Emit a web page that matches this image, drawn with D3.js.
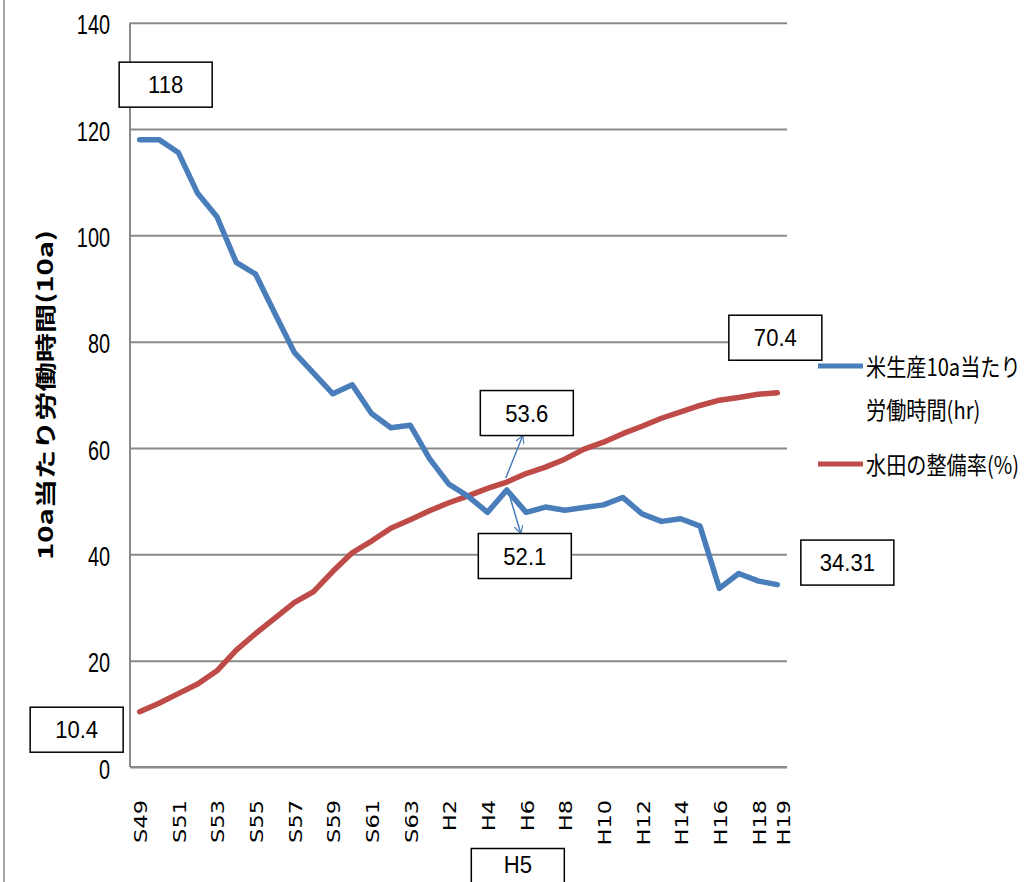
<!DOCTYPE html>
<html><head><meta charset="utf-8">
<script src="https://cdn.jsdelivr.net/npm/d3@7"></script>
<style>body{margin:0;background:#fff;} svg{display:block;}</style>
</head><body>
<svg id="chart" width="1034" height="882"></svg>
<script>
// ---- data ----
const categories = ["S49","S50","S51","S52","S53","S54","S55","S56","S57","S58","S59","S60","S61","S62","S63",
  "H1","H2","H3","H4","H5","H6","H7","H8","H9","H10","H11","H12","H13","H14","H15","H16","H17","H18","H19"];
const laborHours = [118, 118, 115.6, 107.9, 103.5, 94.9, 92.7, 85.3, 78, 74.1, 70.2, 71.9, 66.5, 63.8, 64.3,
  58, 53.2, 50.9, 47.9, 52.1, 47.9, 48.9, 48.3, 48.8, 49.3, 50.7, 47.6, 46.2, 46.7, 45.3, 33.6, 36.4, 35, 34.31];
const paddyRate = [10.4, 12, 13.8, 15.6, 18.1, 22, 25.1, 28, 30.9, 33, 36.8, 40.3, 42.5, 44.9, 46.5,
  48.2, 49.7, 51, 52.4, 53.6, 55.2, 56.4, 57.9, 59.8, 61.1, 62.7, 64.1, 65.6, 66.8, 68, 69, 69.5, 70.1, 70.4];
const xTickLabels = ["S49","S51","S53","S55","S57","S59","S61","S63","H2","H4","H6","H8","H10","H12","H14","H16","H18","H19"];
const yTicks = [0, 20, 40, 60, 80, 100, 120, 140];
const seriesNames = ["米生産10a当たり|労働時間(hr)", "水田の整備率(%)"];
const yTitle = "10a当たり労働時間(10a)";

// ---- layout ----
const svg = d3.select("#chart");
const L = 130, R = 787, T = 22.7, B = 767;
const x = d3.scaleBand().domain(categories).range([L, R]);
const cx = c => x(c) + x.bandwidth() / 2;
const y = d3.scaleLinear().domain([0, 140]).range([B, T]);
const blue = "#4a7ebb", red = "#be4b48", grid = "#8a8a8a";

// left border line
svg.append("line").attr("x1", 4).attr("x2", 4).attr("y1", 0).attr("y2", 882)
  .attr("stroke", "#a8a8a8").attr("stroke-width", 2);

// y axis with gridlines
const yAxis = d3.axisLeft(y).tickValues(yTicks).tickSize(-(R - L)).tickFormat(d3.format("d"));
const gy = svg.append("g").attr("transform", `translate(${L},0)`).call(yAxis);
gy.select(".domain").remove();
gy.selectAll(".tick line").attr("stroke", grid).attr("stroke-width", 2);
gy.selectAll(".tick text")
  .attr("x", null)
  .attr("transform", "translate(-20,1) scale(0.71,1)")
  .attr("dy", "0.36em")
  .attr("text-anchor", "end")
  .style("font-family", "'Liberation Sans', Arial, sans-serif")
  .style("font-size", "28px").attr("fill", "#000");
// axis lines
svg.append("line").attr("x1", L).attr("x2", L).attr("y1", T).attr("y2", B)
  .attr("stroke", grid).attr("stroke-width", 2);
svg.append("line").attr("x1", L).attr("x2", R).attr("y1", B).attr("y2", B)
  .attr("stroke", grid).attr("stroke-width", 2);

// x axis labels
const xAxis = d3.axisBottom(x).tickValues(xTickLabels).tickSize(0);
const gx = svg.append("g").attr("transform", `translate(0,800)`).call(xAxis);
gx.select(".domain").remove();
gx.selectAll(".tick text")
  .attr("y", null).attr("dy", "0.36em")
  .attr("text-anchor", "end")
  .attr("transform", d => `translate(${d === "H19" ? 6 : 1},0) rotate(-90) scale(1.25,1)`)
  .style("font-family", "'DejaVu Sans', sans-serif")
  .style("font-size", "18px").attr("fill", "#000");

// y title
svg.append("text")
  .attr("transform", "translate(53,395) rotate(-90)")
  .attr("text-anchor", "middle")
  .attr("textLength", 330).attr("lengthAdjust", "spacingAndGlyphs")
  .style("font-family", "'Noto Sans CJK JP', sans-serif")
  .style("font-size", "21px").style("font-weight", "bold")
  .text(yTitle);

// lines
const line = vals => d3.line().x((d, i) => cx(categories[i])).y(d => y(d))(vals);
svg.append("path").attr("d", line(paddyRate)).attr("fill", "none").attr("stroke", red)
  .attr("stroke-width", 5.5).attr("stroke-linejoin", "round").attr("stroke-linecap", "round");
svg.append("path").attr("d", line(laborHours)).attr("fill", "none").attr("stroke", blue)
  .attr("stroke-width", 5.5).attr("stroke-linejoin", "round").attr("stroke-linecap", "round");

// legend
const lg = svg.append("g");
lg.append("line").attr("x1", 818).attr("x2", 863).attr("y1", 366).attr("y2", 366)
  .attr("stroke", blue).attr("stroke-width", 5);
lg.append("line").attr("x1", 818).attr("x2", 863).attr("y1", 464).attr("y2", 464)
  .attr("stroke", red).attr("stroke-width", 5);
const legendFont = "'Noto Sans CJK JP', sans-serif";
const [l1, l2] = seriesNames[0].split("|");
function legendText(ty, label) {
  lg.append("text").attr("transform", `translate(866,${ty}) scale(0.84,1)`).attr("dy", "0.36em")
    .style("font-family", legendFont).style("font-size", "24px").text(label);
}
legendText(367, l1);
legendText(410, l2);
legendText(465, seriesNames[1]);

// annotation boxes (offsets from the referenced data point)
const first = categories[0], last = categories[categories.length - 1], mid = "H5";
const iMid = categories.indexOf(mid);
const annotations = [
  {cat: first, v: laborHours[0], text: String(laborHours[0]), dx: 26, dy: -55},
  {cat: first, v: paddyRate[0], text: String(paddyRate[0]), dx: -63, dy: 18},
  {cat: last, v: paddyRate[paddyRate.length - 1], text: String(paddyRate[paddyRate.length - 1]), dx: -2, dy: -55},
  {cat: last, v: laborHours[laborHours.length - 1], text: String(laborHours[laborHours.length - 1]), dx: 70, dy: -22},
  {cat: mid, v: paddyRate[iMid], text: String(paddyRate[iMid]), dx: 20, dy: -69, arrow: true},
  {cat: mid, v: laborHours[iMid], text: String(laborHours[iMid]), dx: 18, dy: 66, arrow: true}
];
svg.append("defs").append("marker").attr("id", "arr").attr("viewBox", "0 0 10 10")
  .attr("refX", 9).attr("refY", 5).attr("markerWidth", 9).attr("markerHeight", 9)
  .attr("markerUnits", "userSpaceOnUse").attr("orient", "auto")
  .append("path").attr("d", "M0,0 L9,5 L0,10").attr("fill", "none").attr("stroke", blue).attr("stroke-width", 1.3);

const bw = 93, bh = 45;
const boxFont = "'Liberation Sans', Arial, sans-serif";
function box(bx, by, label, textY) {
  svg.append("rect").attr("x", bx - bw / 2).attr("y", by - bh / 2).attr("width", bw).attr("height", bh)
    .attr("fill", "#fff").attr("stroke", "#000").attr("stroke-width", 1.5);
  svg.append("text").attr("transform", `translate(${bx},${textY === undefined ? by : textY}) scale(0.92,1)`).attr("dy", "0.36em")
    .attr("text-anchor", "middle").style("font-family", boxFont).style("font-size", "24px").text(label);
}
annotations.forEach(a => {
  const px = cx(a.cat), py = y(a.v);
  const bx = px + a.dx, by = py + a.dy;
  if (a.arrow) {
    const up = a.dy < 0;
    svg.append("line")
      .attr("x1", px - (up ? 1 : -2)).attr("y1", py + (up ? -4 : 3))
      .attr("x2", bx - 4).attr("y2", up ? by + bh / 2 : by - bh / 2)
      .attr("stroke", blue).attr("stroke-width", 1.5).attr("marker-end", "url(#arr)");
  }
  box(bx, by, a.text);
});
// H5 category label box (runs off the bottom edge as in the original)
box(cx(mid) + 11, 871, mid, 864);
</script>
</body></html>
